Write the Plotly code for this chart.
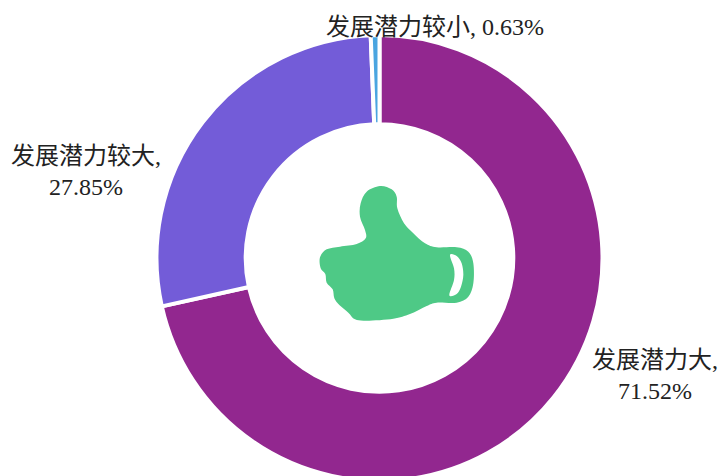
import plotly.graph_objects as go

categories = ["发展潜力大", "发展潜力较大", "发展潜力较小"]
shares = [71.52, 27.85, 0.63]
slice_colors = ["#92278F", "#735CD8", "#4AA5E0"]

W, H = 720, 484


def to_paper(px, py):
    return px / W, 1 - py / H


def smooth_path(zoom_points):
    """Closed Catmull-Rom outline, from zoom-crop pixels to paper coordinates."""
    pts = [to_paper(300 + x / 3, 170 + y / 3) for x, y in zoom_points]
    n = len(pts)
    d = f"M{pts[0][0]:.5f},{pts[0][1]:.5f}"
    for i in range(n):
        p0, p1, p2, p3 = pts[i - 1], pts[i], pts[(i + 1) % n], pts[(i + 2) % n]
        c1 = (p1[0] + (p2[0] - p0[0]) / 6, p1[1] + (p2[1] - p0[1]) / 6)
        c2 = (p2[0] - (p3[0] - p1[0]) / 6, p2[1] - (p3[1] - p1[1]) / 6)
        d += f" C{c1[0]:.5f},{c1[1]:.5f} {c2[0]:.5f},{c2[1]:.5f} {p2[0]:.5f},{p2[1]:.5f}"
    return d + " Z"


thumb_outline = [
    (240, 48), (275, 58), (290, 80), (292, 115), (312, 160), (340, 190), (375, 220),
    (410, 232), (470, 232), (505, 245), (520, 280), (520, 340), (505, 380), (470, 398),
    (410, 398), (380, 408), (330, 432), (280, 446), (200, 452), (165, 448), (145, 428),
    (118, 405), (103, 385), (98, 358), (80, 338), (76, 312), (62, 295), (60, 262), (80, 238),
    (120, 230), (170, 222), (197, 205), (195, 180), (180, 140), (182, 100), (200, 65),
]
thumb_hole = [
    (450, 255), (470, 258), (485, 280), (490, 315), (483, 350), (470, 372),
    (448, 376), (462, 330), (462, 295),
]

fig = go.Figure(
    go.Pie(
        labels=categories,
        values=shares,
        sort=False,
        direction="clockwise",
        rotation=0,
        hole=0.6,
        textinfo="none",
        showlegend=False,
        marker=dict(colors=slice_colors, line=dict(color="white", width=4)),
        domain=dict(x=[156.5 / W, 602.5 / W], y=[3 / H, 449 / H]),
    )
)

fig.add_shape(type="path", xref="paper", yref="paper", path=smooth_path(thumb_outline),
              fillcolor="#4EC986", line=dict(width=0))
fig.add_shape(type="path", xref="paper", yref="paper", path=smooth_path(thumb_hole),
              fillcolor="white", line=dict(width=0))

label_font = dict(family="Liberation Serif, Noto Sans CJK SC, serif", size=24, color="#222222")
label_texts = [
    f"{categories[0]},<br>{shares[0]:.2f}%",
    f"{categories[1]},<br>{shares[1]:.2f}%",
    f"{categories[2]}, {shares[2]:.2f}%",
]
label_centers = [(655, 375), (86, 172), (435, 27)]
for text, (px, py) in zip(label_texts, label_centers):
    x, y = to_paper(px, py)
    fig.add_annotation(text=text, x=x, y=y, xref="paper", yref="paper", showarrow=False,
                       xanchor="center", yanchor="middle", font=label_font, align="center")

fig.update_layout(width=W, height=H, autosize=False, margin=dict(l=0, r=0, t=0, b=0),
                  paper_bgcolor="white")

fig.write_html("out.html", config={"displayModeBar": False},
               post_script="document.body.style.margin='0';document.documentElement.style.overflow='hidden';document.body.style.overflow='hidden';")
